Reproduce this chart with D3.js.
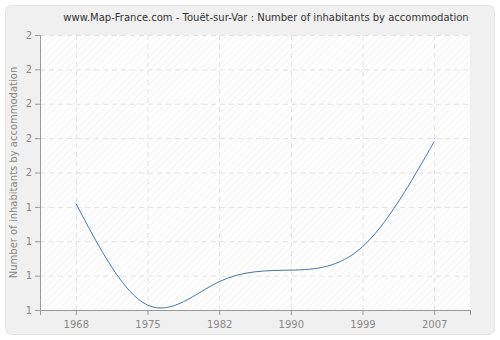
<!DOCTYPE html>
<html>
<head>
<meta charset="utf-8">
<script src="https://cdn.jsdelivr.net/npm/d3@7"></script>
<style>
  body { margin: 0; background: #fff; }
  text { font-family: "DejaVu Sans", sans-serif; }
</style>
</head>
<body>
<div id="chart"></div>
<script>
// Chart data
const years = ["1968", "1975", "1982", "1990", "1999", "2007"];
const values = [1.388, 1.018, 1.103, 1.145, 1.23, 1.612];
const yTicks = [1, 1.125, 1.25, 1.375, 1.5, 1.625, 1.75, 1.875, 2];

const width = 500;
const height = 340;
const margin = { top: 35, right: 30, bottom: 30, left: 40 };

const svg = d3.select('#chart')
    .append('svg')
    .attr('width', width)
    .attr('height', height);

// Hatch pattern for plot background
const defs = svg.append('defs');
const pattern = defs.append('pattern')
    .attr('id', 'hatch')
    .attr('patternUnits', 'userSpaceOnUse')
    .attr('width', 5)
    .attr('height', 5)
    .attr('patternTransform', 'rotate(45)');
pattern.append('rect')
    .attr('width', 5).attr('height', 5)
    .attr('fill', '#ffffff');
pattern.append('line')
    .attr('x1', 0).attr('y1', 0)
    .attr('x2', 0).attr('y2', 5)
    .attr('stroke', '#f0f0f0')
    .attr('stroke-width', 1.5);

// Outer panel
svg.append('rect')
    .attr('x', 5.5).attr('y', 5.5)
    .attr('width', 489).attr('height', 329)
    .attr('rx', 6)
    .attr('fill', '#f0f0f0')
    .attr('stroke', '#e4e4e4');

const x = d3.scalePoint()
    .domain(years)
    .range([margin.left, width - margin.right])
    .padding(0.5);

const y = d3.scaleLinear()
    .domain([1, 2])
    .range([height - margin.bottom, margin.top]);

// Plot area
svg.append('rect')
    .attr('x', margin.left)
    .attr('y', margin.top)
    .attr('width', width - margin.left - margin.right)
    .attr('height', height - margin.top - margin.bottom)
    .attr('fill', 'url(#hatch)');

// Gridlines
svg.append('g')
    .attr('transform', `translate(0,${height - margin.bottom})`)
    .call(d3.axisBottom(x).tickSize(-(height - margin.top - margin.bottom)).tickFormat(''))
    .call(g => g.select('.domain').remove())
    .selectAll('line')
    .attr('stroke', '#e2e2e2')
    .attr('stroke-dasharray', '5,4');

svg.append('g')
    .attr('transform', `translate(${margin.left},0)`)
    .call(d3.axisLeft(y).tickValues(yTicks).tickSize(-(width - margin.left - margin.right)).tickFormat(''))
    .call(g => g.select('.domain').remove())
    .selectAll('line')
    .attr('stroke', '#e2e2e2')
    .attr('stroke-dasharray', '5,4');

// Axes
const xAxis = svg.append('g')
    .attr('transform', `translate(0,${height - margin.bottom})`)
    .call(d3.axisBottom(x).tickSizeOuter(0).tickSize(5).tickPadding(6));

const yAxis = svg.append('g')
    .attr('transform', `translate(${margin.left},0)`)
    .call(d3.axisLeft(y).tickValues(yTicks).tickSizeOuter(0).tickSize(5)
        .tickFormat(d => Math.round(d)));

[xAxis, yAxis].forEach(a => {
    a.select('.domain').attr('stroke', '#999');
    a.selectAll('.tick line').attr('stroke', '#999');
    a.selectAll('.tick text')
        .attr('fill', '#888')
        .style('font-size', '10px');
});

// Axis label
svg.append('text')
    .attr('transform', 'rotate(-90)')
    .attr('x', -(margin.top + (height - margin.top - margin.bottom) / 2))
    .attr('y', 17)
    .attr('text-anchor', 'middle')
    .attr('fill', '#888')
    .style('font-size', '10px')
    .text('Number of inhabitants by accommodation');

// Title
svg.append('text')
    .attr('x', 266)
    .attr('y', 21)
    .attr('text-anchor', 'middle')
    .attr('fill', '#333')
    .style('font-size', '10px')
    .text('www.Map-France.com - Touët-sur-Var : Number of inhabitants by accommodation');

// Line
const line = d3.line()
    .x((d, i) => x(years[i]))
    .y(d => y(d))
    .curve(d3.curveNatural);

svg.append('path')
    .datum(values)
    .attr('d', line)
    .attr('fill', 'none')
    .attr('stroke', '#4a76a8')
    .attr('stroke-width', 1);
</script>
</body>
</html>
